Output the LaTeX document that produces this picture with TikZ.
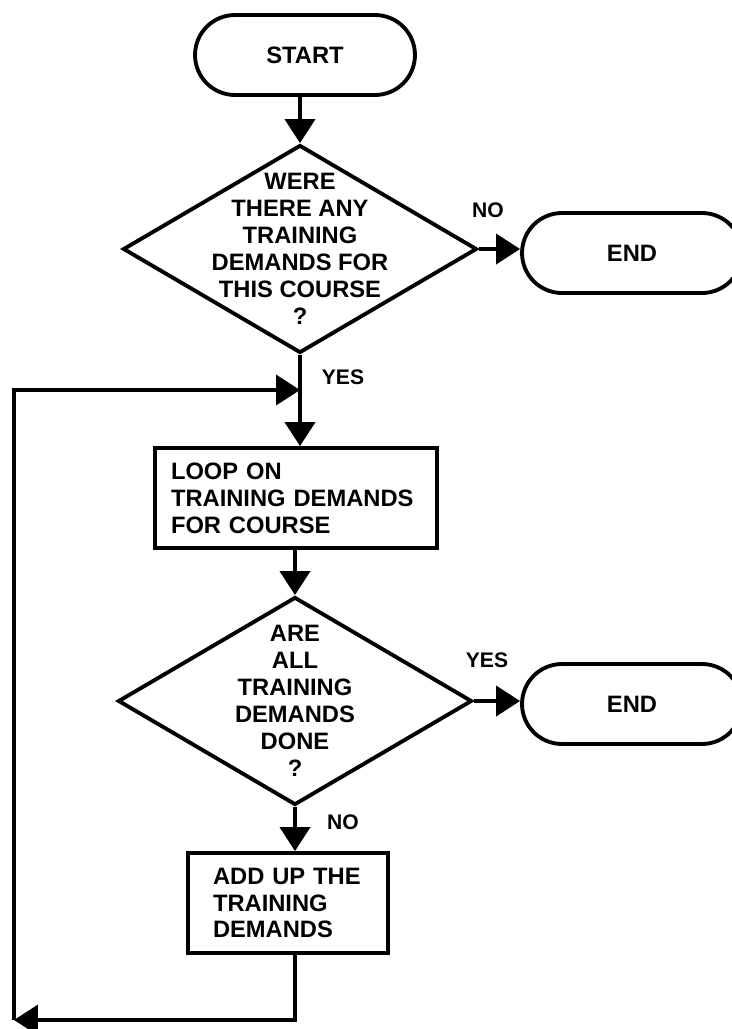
\documentclass[tikz,border=0pt]{standalone}
\usepackage{fontspec}
\setmainfont{Liberation Sans}
\usetikzlibrary{shapes.geometric,arrows.meta}

\newcommand{\chartfont}{\fontsize{13.5}{15.3}\selectfont\bfseries}
\newcommand{\tagfont}{\fontsize{12}{14}\selectfont\bfseries}

\tikzset{
  terminal/.style={draw, line width=2.2pt, rounded corners=0.8cm,
    minimum width=4.4cm, minimum height=1.6cm, font=\chartfont},
  decision/.style={draw, diamond, line width=2.2pt, inner sep=0pt,
    minimum width=7.08cm, minimum height=4.16cm},
  qtext/.style={align=center, font=\chartfont, inner sep=0pt},
  process/.style={draw, line width=2.2pt, align=left, minimum height=2cm,
    inner ysep=0pt, font=\chartfont},
  flow/.style={line width=2.2pt, -{Triangle[length=0.48cm,width=0.6cm]}},
  tag/.style={font=\tagfont, inner sep=0pt}
}

\begin{document}
\begin{tikzpicture}[x=0.02cm, y=-0.02cm]
\clip (0,0) rectangle (732,1029);
\fill[white] (0,0) rectangle (732,1029);

\node[terminal] (start) at (305,55) {START};
\node[decision, label={[qtext]center:{WERE\\THERE ANY\\TRAINING\\DEMANDS FOR\\THIS COURSE\\?}}] (q1) at (300,249) {};
\node[terminal] (end1) at (632,253) {END};
\node[process, text width=5cm, inner xsep=0.32cm] (loop) at (296,498) {LOOP ON\\TRAINING DEMANDS\\FOR COURSE};
\node[decision, label={[qtext]center:{ARE\\ALL\\TRAINING\\DEMANDS\\DONE\\?}}] (q2) at (295,701) {};
\node[terminal] (end2) at (632,704) {END};
\node[process, text width=3cm, inner xsep=0.5cm] (add) at (288,903) {ADD UP THE\\TRAINING\\DEMANDS};

% answers on the branches
\node[tag] (no1) at (488,210) {NO};
\node[tag] (yes1) at (343,377) {YES};
\node[tag] (yes2) at (487,660) {YES};
\node[tag] (no2) at (343,822) {NO};

\coordinate (corner) at (14,1020);
\coordinate (merge) at (300,390);

\draw[flow] (start.south -| q1.north) -- (q1.north);
\draw[flow] (q1.east) -- (q1.east -| end1.west);
\draw[flow] (q1.south) -- (q1.south |- loop.north);
\draw[flow] (loop.south -| q2.north) -- (q2.north);
\draw[flow] (q2.east) -- (q2.east -| end2.west);
\draw[flow] (q2.south) -- (q2.south |- add.north);

% back round to the top of the loop
\draw[flow] (add.south -| q2.south) |- (corner);
\draw[flow] (corner) |- (merge);
\end{tikzpicture}
\end{document}
